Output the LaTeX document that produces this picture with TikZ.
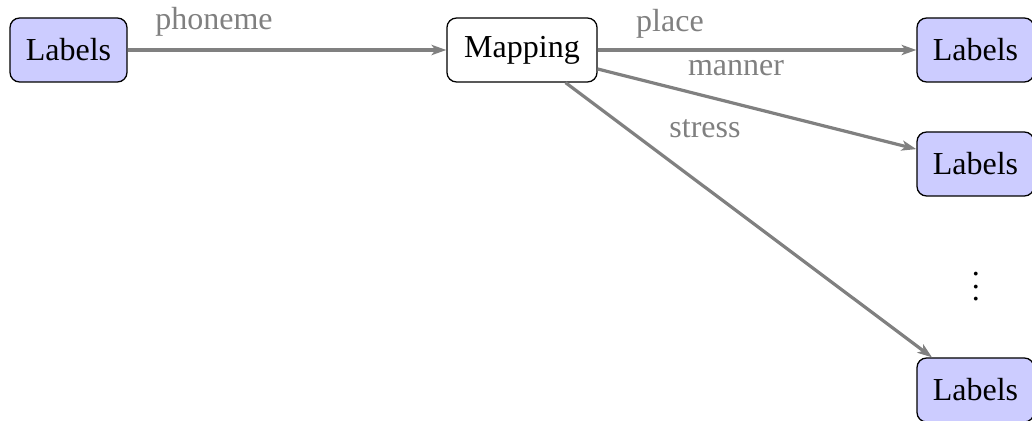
\documentclass[tikz,border=0pt]{standalone}
\usepackage{fontspec}
\setmainfont{Liberation Serif}
\usetikzlibrary{arrows.meta}
\begin{document}
\begin{tikzpicture}[x=0.3125pt,y=-0.3125pt,
  labelbox/.style={draw=black, fill=blue!20, rounded corners=3pt, line width=0.4pt,
    minimum width=36.56pt, minimum height=20pt, inner sep=0pt, font=\fontsize{10}{12}\selectfont},
  mapbox/.style={labelbox, fill=white, minimum width=46.9pt},
  conn/.style={draw=gray, line width=1pt, -{Stealth[length=4.6pt,width=3.2pt,inset=1.2pt]}},
  elabel/.style={text=gray, anchor=base, inner sep=0pt, font=\fontsize{10}{12}\selectfont}]
\useasboundingbox (0,0) rectangle (1032,421);
\node[labelbox] (in) at (68.5,50) {Labels};
\node[mapbox] (map) at (522,50) {Mapping};
\node[labelbox] (o1) at (975.5,50) {Labels};
\node[labelbox] (o2) at (975.5,164) {Labels};
\node[labelbox] (o3) at (975.5,390) {Labels};
\node[font=\fontsize{10}{12}\selectfont, inner sep=0pt] (dots) at (976,277) {$\vdots$};
\draw[conn] (in) -- (map);
\draw[conn] (map) -- (o1);
\draw[conn] (map) -- (o2);
\draw[conn] (map) -- (o3);
\node[elabel] (lphon) at (214,30) {phoneme};
\node[elabel] (lplace) at (670,31.5) {place};
\node[elabel] (lmanner) at (736,76) {manner};
\node[elabel] (lstress) at (705,138) {stress};
\end{tikzpicture}
\end{document}
